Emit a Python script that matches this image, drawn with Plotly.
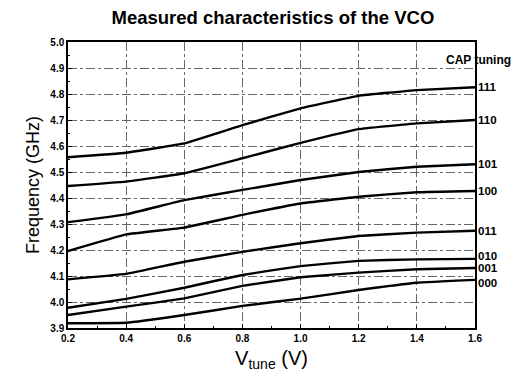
import plotly.graph_objects as go

vtune = [0.2, 0.4, 0.6, 0.8, 1.0, 1.2, 1.4, 1.6]
cap_codes = ["111", "110", "101", "100", "011", "010", "001", "000"]
f_111 = [4.557, 4.574, 4.61, 4.68, 4.745, 4.793, 4.815, 4.826]
f_110 = [4.446, 4.463, 4.495, 4.553, 4.612, 4.665, 4.687, 4.70]
f_101 = [4.307, 4.337, 4.392, 4.431, 4.469, 4.50, 4.52, 4.53]
f_100 = [4.196, 4.26, 4.286, 4.335, 4.379, 4.405, 4.422, 4.427]
f_011 = [4.087, 4.108, 4.155, 4.193, 4.226, 4.254, 4.267, 4.274]
f_010 = [3.978, 4.012, 4.055, 4.104, 4.138, 4.158, 4.164, 4.166]
f_001 = [3.95, 3.982, 4.014, 4.062, 4.095, 4.113, 4.126, 4.131]
f_000 = [3.918, 3.92, 3.95, 3.985, 4.013, 4.046, 4.074, 4.085]
series = [f_111, f_110, f_101, f_100, f_011, f_010, f_001, f_000]
label_shift = [0, 0, 0, 0, 0, 3, 0, -3]

x_ticks = [0.2, 0.4, 0.6, 0.8, 1.0, 1.2, 1.4, 1.6]
y_ticks = [3.9, 4.0, 4.1, 4.2, 4.3, 4.4, 4.5, 4.6, 4.7, 4.8, 4.9, 5.0]

fig = go.Figure()
for code, ys, sh in zip(cap_codes, series, label_shift):
    fig.add_trace(go.Scatter(x=vtune, y=ys, mode="lines", name=code,
                             line=dict(color="black", width=2.4, shape="spline", smoothing=0.25),
                             showlegend=False))
    fig.add_annotation(x=vtune[-1], y=ys[-1], text=code, showarrow=False,
                       xanchor="left", xshift=1, yshift=sh, yanchor="middle",
                       font=dict(family="Liberation Sans", size=11.5, color="black", weight="bold"))

fig.add_annotation(x=1.0, xref="paper", y=4.93, yref="y", text="CAP tuning", showarrow=False,
                   xanchor="left", xshift=-31, yanchor="middle",
                   font=dict(family="Liberation Sans", size=12, color="black", weight="bold"))

axis_common = dict(showline=True, linecolor="black", linewidth=1.5, mirror=True,
                   ticks="inside", ticklen=4, tickcolor="black",
                   showgrid=True, gridcolor="#666666", griddash="dashdot", gridwidth=0.8,
                   zeroline=False,
                   tickfont=dict(family="Liberation Sans", size=10, color="black", weight="bold"))

fig.update_xaxes(range=[0.2, 1.6], tickvals=x_ticks, ticktext=[f"{v:.1f}" for v in x_ticks],
                 minor=dict(ticks="inside", ticklen=2, dtick=0.1, tickcolor="black", showgrid=False),
                 title=dict(text="V<sub>tune</sub> (V)", font=dict(family="Liberation Sans", size=20, color="black"),
                            standoff=8),
                 **axis_common)
fig.update_yaxes(range=[3.9, 5.0], tickvals=y_ticks, ticktext=[f"{v:.1f}" for v in y_ticks],
                 minor=dict(ticks="inside", ticklen=2, dtick=0.05, tickcolor="black", showgrid=False),
                 title=dict(text="Frequency (GHz)", font=dict(family="Liberation Sans", size=18, color="black"),
                            standoff=6),
                 **axis_common)

fig.update_layout(
    width=530, height=390,
    margin=dict(l=68, r=55, t=42, b=62),
    paper_bgcolor="white", plot_bgcolor="white",
    title=dict(text="<b>Measured characteristics of the VCO</b>", x=0.515, xanchor="center",
               y=0.955, yanchor="middle",
               font=dict(family="Liberation Sans", size=18.5, color="black")),
)

fig.write_html("out.html")
